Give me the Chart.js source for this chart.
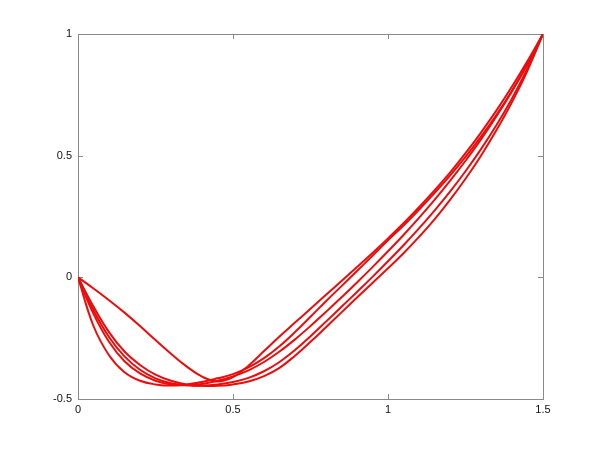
<!DOCTYPE html>
<html>
<head>
<meta charset="utf-8">
<script src="https://cdn.jsdelivr.net/npm/chart.js@4"></script>
<style>
  html, body { margin: 0; padding: 0; background: #fff; }
  #wrap { width: 600px; height: 449px; }
</style>
</head>
<body>
<div id="wrap"><canvas id="plot" width="600" height="449"></canvas></div>
<script>
// DATA (x step 0.05)
const xs = [0, 0.05, 0.1, 0.15, 0.2, 0.25, 0.3, 0.35, 0.4, 0.45, 0.5, 0.55, 0.6, 0.65, 0.7, 0.75, 0.8, 0.85, 0.9, 0.95,
  1.0, 1.05, 1.1, 1.15, 1.2, 1.25, 1.3, 1.35, 1.4, 1.45, 1.5];

const curveA = [0, -0.046, -0.094, -0.145, -0.2, -0.258, -0.314, -0.366, -0.408, -0.428, -0.41,
  -0.363, -0.303, -0.243, -0.186, -0.129, -0.072, -0.015, 0.042, 0.1, 0.16, 0.222, 0.288, 0.357, 0.43, 0.51, 0.595, 0.686, 0.784, 0.889, 1.0];
const curveB = [0, -0.2, -0.32, -0.39, -0.425, -0.44, -0.445, -0.44, -0.43, -0.415, -0.398,
  -0.37, -0.332, -0.283, -0.225, -0.162, -0.098, -0.036, 0.026, 0.089, 0.152, 0.213, 0.278, 0.346, 0.418, 0.495, 0.578, 0.668, 0.767, 0.877, 1.0];
const curveC = [0, -0.15, -0.265, -0.345, -0.395, -0.425, -0.44, -0.443, -0.438, -0.425, -0.407,
  -0.382, -0.348, -0.305, -0.255, -0.2, -0.142, -0.082, -0.021, 0.042, 0.107, 0.174, 0.244, 0.318, 0.396, 0.479, 0.567, 0.662, 0.765, 0.877, 1.0];
const curveD = [0, -0.135, -0.245, -0.325, -0.38, -0.415, -0.435, -0.443, -0.445, -0.44, -0.43,
  -0.413, -0.386, -0.348, -0.299, -0.242, -0.182, -0.121, -0.06, 0.002, 0.066, 0.132, 0.201, 0.274, 0.352, 0.436, 0.527, 0.626, 0.735, 0.86, 1.0];
const curveE = [0, -0.12, -0.225, -0.305, -0.36, -0.4, -0.425, -0.44, -0.446, -0.446, -0.44,
  -0.428, -0.406, -0.372, -0.322, -0.265, -0.205, -0.144, -0.083, -0.023, 0.037, 0.099, 0.166, 0.238, 0.318, 0.405, 0.5, 0.605, 0.72, 0.85, 1.0];

const xTicks = [0, 0.5, 1, 1.5];
const yTicks = [-0.5, 0, 0.5, 1];

const curves = [curveA, curveB, curveC, curveD, curveE];

// box + inward ticks like matlab
const boxPlugin = {
  id: "box",
  beforeDatasetsDraw(chart) {
    const { ctx, chartArea: a, scales } = chart;
    ctx.save();
    ctx.strokeStyle = "#8a8a8a";
    ctx.lineWidth = 1;
    ctx.strokeRect(a.left + 0.5, a.top + 0.5, a.right - a.left, a.bottom - a.top);
    ctx.beginPath();
    xTicks.forEach((v) => {
      const px = Math.round(scales.x.getPixelForValue(v)) + 0.5;
      ctx.moveTo(px, a.bottom);
      ctx.lineTo(px, a.bottom - 5);
      ctx.moveTo(px, a.top);
      ctx.lineTo(px, a.top + 5);
    });
    yTicks.forEach((v) => {
      const py = Math.round(scales.y.getPixelForValue(v)) + 0.5;
      ctx.moveTo(a.left, py);
      ctx.lineTo(a.left + 5, py);
      ctx.moveTo(a.right, py);
      ctx.lineTo(a.right - 5, py);
    });
    ctx.stroke();
    ctx.restore();
  },
};

const tickFont = { family: "'Liberation Sans', Arial, sans-serif", size: 11 };

new Chart(document.getElementById("plot"), {
  type: "line",
  data: {
    datasets: curves.map((ys) => ({
      data: xs.map((x, i) => ({ x: x, y: ys[i] })),
      borderColor: "#ec0c0c",
      borderWidth: 2,
      pointRadius: 0,
      fill: false,
      tension: 0.4,
    })),
  },
  options: {
    responsive: false,
    animation: false,
    layout: { padding: { left: 0, top: 34, right: 57, bottom: 0 } },
    plugins: { legend: { display: false }, tooltip: { enabled: false } },
    scales: {
      x: {
        type: "linear",
        min: 0,
        max: 1.5,
        grid: { display: false, drawTicks: false },
        border: { display: false },
        afterBuildTicks: (s) => { s.ticks = xTicks.map((v) => ({ value: v })); },
        afterFit: (s) => { s.height = 50; },
        ticks: { color: "#111", font: tickFont, padding: 4, maxRotation: 0, callback: (v) => String(v) },
      },
      y: {
        min: -0.5,
        max: 1,
        grid: { display: false, drawTicks: false },
        border: { display: false },
        afterBuildTicks: (s) => { s.ticks = yTicks.map((v) => ({ value: v })); },
        afterFit: (s) => { s.width = 78; },
        ticks: { color: "#111", font: tickFont, padding: 6, callback: (v) => String(v) },
      },
    },
  },
  plugins: [boxPlugin],
});
</script>
</body>
</html>
